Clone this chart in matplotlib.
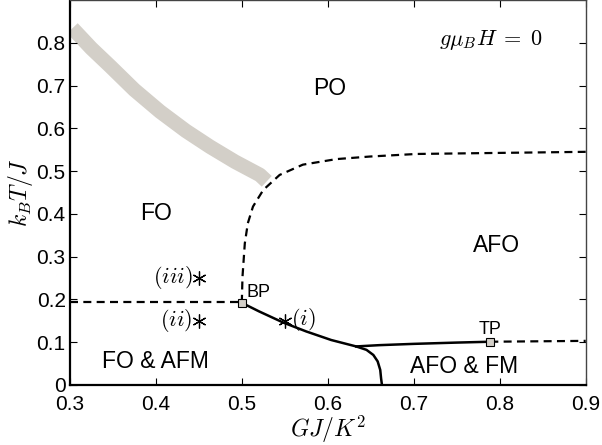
import numpy as np
import matplotlib
matplotlib.use("Agg")
import matplotlib.pyplot as plt

plt.rcParams['font.family'] = ['Liberation Sans', 'DejaVu Sans']
plt.rcParams['mathtext.fontset'] = 'cm'

# gray crossover band
band_x = [0.303, 0.325, 0.347, 0.375, 0.405, 0.435, 0.463, 0.492, 0.521, 0.529]
band_y = [0.834, 0.787, 0.745, 0.690, 0.639, 0.594, 0.557, 0.522, 0.491, 0.476]

# dashed PO boundary (from BP upward and right)
po_x = [0.500, 0.5008, 0.5035, 0.507, 0.513, 0.525, 0.544, 0.571, 0.610, 0.649, 0.703, 0.80, 0.90]
po_y = [0.192, 0.253, 0.331, 0.378, 0.417, 0.456, 0.491, 0.515, 0.528, 0.534, 0.540, 0.5425, 0.545]

# dashed horizontal FO / FO&AFM line
fo_x = [0.30, 0.50]
fo_y = [0.194, 0.194]

# solid line from BP down to x axis
s1_x = [0.500, 0.52, 0.548, 0.575, 0.604, 0.633, 0.645, 0.653, 0.658, 0.661, 0.662, 0.663]
s1_y = [0.192, 0.172, 0.146, 0.125, 0.105, 0.090, 0.082, 0.070, 0.055, 0.035, 0.015, 0.0]

# solid branch to TP
s2_x = [0.633, 0.66, 0.70, 0.75, 0.789]
s2_y = [0.090, 0.093, 0.096, 0.099, 0.101]

# dashed beyond TP
tp_x = [0.789, 0.90]
tp_y = [0.101, 0.103]

special_x = [0.500, 0.789]
special_y = [0.192, 0.101]

stars_x = [0.55, 0.45, 0.45]
stars_y = [0.15, 0.15, 0.25]

band_col = '#d3cfc8'
dash = (3.6, 2.4)

fig = plt.figure(figsize=(6.02, 4.45), dpi=100)
ax = fig.add_axes([0.116, 0.135, 0.857, 0.865])

ax.plot(band_x, band_y, color=band_col, lw=10.5, solid_capstyle='butt',
        solid_joinstyle='round', zorder=1)
ax.plot(po_x, po_y, 'k--', lw=1.6, dashes=dash)
ax.plot(fo_x, fo_y, 'k--', lw=1.6, dashes=dash)
ax.plot(tp_x, tp_y, 'k--', lw=1.6, dashes=dash)
ax.plot(s1_x, s1_y, 'k-', lw=1.8)
ax.plot(s2_x, s2_y, 'k-', lw=1.8)
ax.plot(special_x, special_y, 's', ms=6, mfc=band_col, mec='k', mew=0.8, zorder=5)
ax.plot(stars_x, stars_y, ls='none', marker=(6, 2, 0), ms=10, mec='k', mew=0.9)

ax.text(0.557, 0.153, r'$(i)$', fontsize=16, va='center', ha='left')
ax.text(0.443, 0.15, r'$(ii)$', fontsize=16, va='center', ha='right')
ax.text(0.443, 0.252, r'$(iii)$', fontsize=16, va='center', ha='right')

ax.text(0.602, 0.694, 'PO', fontsize=16.5, ha='center', va='center')
ax.text(0.40, 0.40, 'FO', fontsize=16.5, ha='center', va='center')
ax.text(0.796, 0.327, 'AFO', fontsize=16.5, ha='center', va='center')
ax.text(0.40, 0.054, 'FO & AFM', fontsize=16.5, ha='center', va='center')
ax.text(0.758, 0.042, 'AFO & FM', fontsize=16.5, ha='center', va='center')
ax.text(0.79, 0.807, r'$g\mu_B H\;=\;0$', fontsize=16, ha='center', va='center')
ax.text(0.506, 0.217, 'BP', fontsize=13, ha='left', va='center')
ax.text(0.789, 0.129, 'TP', fontsize=13, ha='center', va='center')

ax.set_xlim(0.3, 0.9)
ax.set_ylim(0, 0.9)
ax.set_xticks([0.3, 0.4, 0.5, 0.6, 0.7, 0.8, 0.9])
ax.set_xticklabels(['0.3', '0.4', '0.5', '0.6', '0.7', '0.8', '0.9'])
ax.set_yticks([0, 0.1, 0.2, 0.3, 0.4, 0.5, 0.6, 0.7, 0.8])
ax.set_yticklabels(['0', '0.1', '0.2', '0.3', '0.4', '0.5', '0.6', '0.7', '0.8'])
ax.tick_params(direction='in', top=True, right=True, labelsize=15, length=5)
ax.tick_params(axis='x', pad=7)
ax.tick_params(axis='y', pad=3)
ax.set_xlabel(r'$GJ/K^2$', fontsize=17, labelpad=0)
ax.set_ylabel(r'$k_BT/J$', fontsize=17, labelpad=1)

for s in ['left', 'bottom']:
    ax.spines[s].set_linewidth(1.6)
for s in ['top', 'right']:
    ax.spines[s].set_linewidth(1.0)
    ax.spines[s].set_color('#444444')

fig.savefig('out.png', dpi=100)
